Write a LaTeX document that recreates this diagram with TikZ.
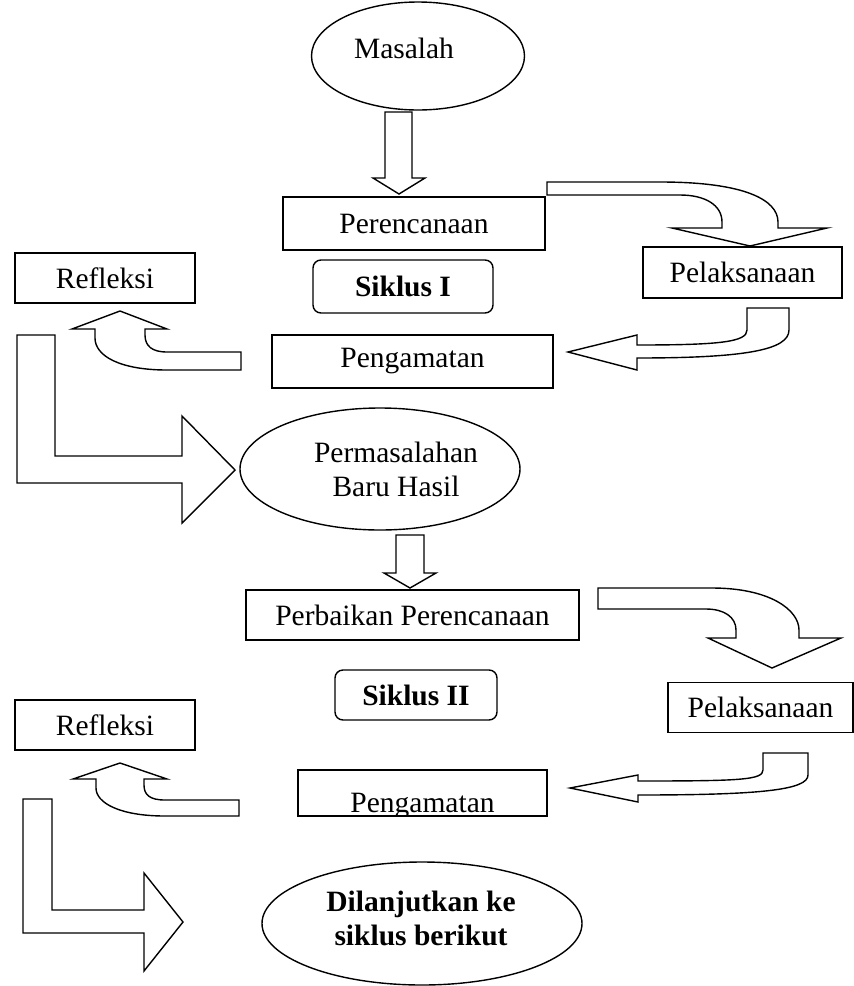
\documentclass[tikz,border=0pt]{standalone}
\usepackage{fontspec}
\setmainfont{Liberation Serif}
\usetikzlibrary{shapes.geometric}
\begin{document}
\begin{tikzpicture}[x=1pt,y=-1pt,
  box/.style={draw, line width=1.4pt, rectangle, inner sep=0pt, font=\fontsize{29.5}{34}\selectfont},
  sbox/.style={box, rounded corners=8pt, font=\fontsize{29.5}{34}\selectfont\bfseries},
  oval/.style={draw, line width=1.4pt, ellipse, inner sep=0pt},
  txt/.style={font=\fontsize{29.5}{34}\selectfont, align=center, inner sep=0pt},
  btxt/.style={font=\fontsize{29.5}{34}\selectfont\bfseries, align=center, inner sep=0pt},
  blk/.style={draw, line width=1.4pt, line join=miter, fill=white},
]
\useasboundingbox (0,0) rectangle (854,986);

% ---- Siklus I ----
\node[oval, minimum width=213pt, minimum height=108pt] (mas) at (418,56) {};
\node[txt] (mast) at (404,48) {Masalah};
\node[box, minimum width=262pt, minimum height=53pt] (per) at (414,223.5) {Perencanaan};
\node[sbox, minimum width=180pt, minimum height=53pt] (s1) at (403,286.5) {Siklus I};
\node[box, minimum width=199pt, minimum height=51pt] (pel) at (742.5,272.5) {Pelaksanaan};
\node[box, minimum width=180pt, minimum height=50pt] (ref) at (105,278) {Refleksi};
\node[box, minimum width=281pt, minimum height=53pt] (pen) at (412.5,361.5) {Pengamatan};
\node[oval, minimum width=280pt, minimum height=122pt] (pbh) at (380,469) {};
\node[txt] (pbht) at (396,469) {Permasalahan\\Baru Hasil};

% ---- Siklus II ----
\node[box, minimum width=333pt, minimum height=50pt] (pp) at (412.5,615) {Perbaikan Perencanaan};
\node[sbox, minimum width=162pt, minimum height=50pt] (s2) at (416,695) {Siklus II};
\node[box, minimum width=185pt, minimum height=50pt] (pel2) at (760.5,707.5) {Pelaksanaan};
\node[box, minimum width=180pt, minimum height=50pt] (ref2) at (105,725) {Refleksi};
\node[box, minimum width=249pt, minimum height=46pt] (pen2) at (422.5,793) {};
\begin{scope}
  \clip (pen2.south west) rectangle (pen2.north east);
  \node[txt, anchor=base] (pen2t) at (422.5,812) {Pengamatan};
\end{scope}
\node[oval, minimum width=320pt, minimum height=123pt] (dil) at (422,923.5) {};
\node[btxt] (dilt) at (421,918) {Dilanjutkan ke\\siklus berikut};

% ---- block arrows, Siklus I ----
\draw[blk] (385,112) -- (412,112) -- (412,178) -- (425,178) -- (399,194) -- (373,178) -- (385,178) -- cycle;
\draw[blk] (547,182) -- (660,182) .. controls (745,182) and (778,200) .. (778,222) -- (778,228) -- (827,228) -- (750,246) -- (672,228) -- (722,228) -- (722,222) .. controls (722,205) and (705,195) .. (680,195) -- (547,195) -- cycle;
\draw[blk] (120,311) -- (167,329) -- (145,329) -- (145,335) .. controls (145,346) and (152,352) .. (167,352) -- (241,352) -- (241,370) -- (167,370) .. controls (120,370) and (95,356) .. (95,338) -- (95,329) -- (72,329) -- cycle;
\draw[blk] (747,308) -- (789,308) -- (789,330) .. controls (789,350) and (745,358) .. (637,358) -- (637,370) -- (568,352) -- (637,335) -- (637,345) .. controls (720,345) and (747,342) .. (747,330) -- cycle;
\draw[blk] (17,335) -- (55,335) -- (55,456) -- (182,456) -- (182,416) -- (235,470) -- (182,523) -- (182,483) -- (17,483) -- cycle;

% ---- block arrows, Siklus II ----
\draw[blk] (396,535) -- (424,535) -- (424,573) -- (436,573) -- (410,588) -- (384,573) -- (396,573) -- cycle;
\draw[blk] (598,588) -- (712,588) .. controls (770,588) and (799,610) .. (799,630) -- (799,638) -- (841,638) -- (772,668) -- (708,638) -- (736,638) -- (736,630) .. controls (736,617) and (724,609) .. (706,609) -- (598,609) -- cycle;
\draw[blk] (763,753) -- (808,753) -- (808,775) .. controls (808,790) and (760,795) .. (638,795) -- (638,802) -- (570,788) -- (638,775) -- (638,781) .. controls (740,781) and (763,780) .. (763,770) -- cycle;
\draw[blk] (120,763) -- (167,779) -- (144,779) -- (144,785) .. controls (144,795) and (150,800) .. (165,800) -- (239,800) -- (239,816) -- (165,816) .. controls (120,816) and (96,803) .. (96,788) -- (96,779) -- (73,779) -- cycle;
\draw[blk] (23,799) -- (52,799) -- (52,910) -- (144,910) -- (144,873) -- (183,922) -- (144,971) -- (144,933) -- (23,933) -- cycle;
\end{tikzpicture}
\end{document}
